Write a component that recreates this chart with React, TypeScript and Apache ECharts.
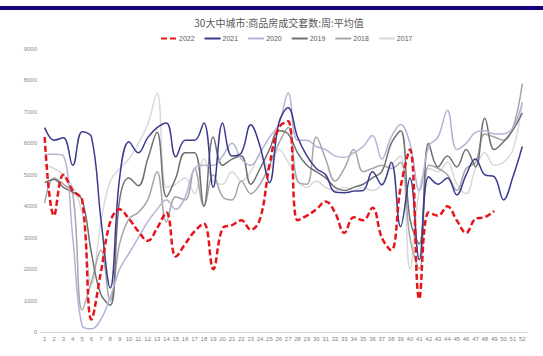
import React, { useEffect, useRef } from "react";
import * as echarts from "echarts";

const weeks: string[] = Array.from({ length: 52 }, (_, i) => String(i + 1));
const yTicks = [0, 1000, 2000, 3000, 4000, 5000, 6000, 7000, 8000, 9000];

const y2022 = [6200, 3700, 5000, 4500, 4200, 400, 1900, 3500, 3900, 3600, 3200, 2900, 3300, 3800, 2400, 2800, 3200, 3450, 2000, 3300, 3400, 3550, 3250, 3600, 5300, 6500, 6700, 3550, 3700, 3900, 4150, 3800, 3150, 3650, 3550, 3950, 3000, 2600, 4600, 5800, 1050, 3800, 3700, 4000, 3550, 3150, 3600, 3650, 3850];
const y2021 = [6500, 6100, 6180, 5300, 6370, 6200, 3600, 1400, 4900, 6050, 5700, 6180, 6500, 6650, 5570, 6100, 6100, 6650, 4600, 6650, 5600, 5700, 6590, 5900, 4750, 6650, 7130, 6200, 5600, 5200, 5000, 4450, 4430, 4480, 4500, 5100, 4680, 5400, 3350, 4900, 2300, 4940, 4700, 4900, 4360, 5000, 5500, 5000, 4940, 4200, 4940, 5900];
const y2020 = [5650, 5650, 5600, 3000, 200, 100, 400, 1100, 2000, 2500, 3000, 3500, 3900, 4200, 3900, 4300, 5200, 5300, 5300, 5600, 6000, 5500, 5300, 5700, 6200, 6600, 7600, 6100, 6100, 5900, 5800, 5600, 5550, 5700, 5900, 6250, 5500, 6200, 6600, 6000, 4500, 5900, 6200, 7050, 5800, 6000, 6350, 6400, 6300, 6300, 6500, 7300];
const y2019 = [4750, 4850, 4600, 4450, 4200, 2500, 1200, 850, 4200, 4900, 4650, 5500, 6350, 4300, 4900, 5700, 5700, 4000, 6200, 5300, 5500, 5600, 4700, 5200, 5800, 6400, 6300, 5700, 5300, 5100, 4900, 4600, 4500, 4600, 4700, 4900, 5100, 6000, 6400, 3600, 2800, 6000, 5250, 5600, 5250, 5800, 5250, 6800, 5800, 6050, 6430, 6970];
const y2018 = [4100, 4900, 4700, 4400, 700, 1600, 2600, 1000, 2800, 3600, 3800, 4200, 5100, 3500, 4300, 4200, 5200, 4000, 5000, 4300, 4200, 4800, 4400, 4700, 5300, 6000, 6500, 4800, 4700, 6200, 5500, 4800, 5200, 5800, 5100, 5200, 5300, 5200, 5400, 3000, 2000, 5300, 5200, 5000, 4500, 5200, 5400, 6300, 6200, 6100, 6500, 7900];
const y2017 = [5300, 5200, 5000, 4600, 3800, 1500, 3500, 4800, 5200, 5500, 6000, 6600, 7600, 4600, 4700, 4900, 4400, 5500, 4800, 4700, 5100, 4800, 5100, 5600, 5200, 5800, 5400, 4800, 4600, 4800, 4600, 4500, 4600, 4500, 4600, 4500, 4700, 5300, 5600, 2000, 4500, 5200, 5100, 5400, 4700, 4400, 5200, 5700, 5300, 5400, 5800, 7300];

const legendOrder = ["2022", "2021", "2020", "2019", "2018", "2017"];

export default function App() {
  const ref = useRef<HTMLDivElement>(null);
  useEffect(() => {
    document.body.style.margin = "0";
    const chart = echarts.init(ref.current!, undefined, { renderer: "svg" });
    const mk = (name: string, data: number[], color: string, width: number, dashed = false) => ({
      name,
      type: "line",
      data,
      smooth: 0.4,
      symbol: "none",
      showSymbol: false,
      lineStyle: { color, width, type: dashed ? [6, 3] : "solid" },
      itemStyle: { color },
    });
    chart.setOption({
      animation: false,
      backgroundColor: "#ffffff",
      textStyle: { fontFamily: "Liberation Sans, Noto Sans CJK SC, sans-serif" },
      graphic: [
        { type: "rect", shape: { x: 0, y: 6, width: 543, height: 4 }, style: { fill: "#13007a" }, silent: true },
      ],
      title: {
        text: "30大中城市:商品房成交套数:周:平均值",
        left: 274,
        top: 12,
        textAlign: "center",
        textStyle: { fontSize: 10, fontWeight: "normal", color: "#595959", fontFamily: "Noto Sans CJK SC" },
      },
      legend: {
        data: legendOrder,
        top: 30,
        left: 155,
        itemWidth: 16,
        itemHeight: 8,
        itemGap: 9,
        itemStyle: { opacity: 0 },
        textStyle: { fontSize: 7, color: "#595959", padding: [0, 0, 0, -3] },
      },
      grid: { left: 40, right: 16, top: 49, bottom: 24 },
      xAxis: {
        type: "category",
        data: weeks,
        boundaryGap: true,
        axisLine: { lineStyle: { color: "#d9d9d9", width: 1 } },
        axisTick: { show: false },
        axisLabel: { interval: 0, fontSize: 6, color: "#7f7f7f", margin: 4 },
      },
      yAxis: {
        type: "value",
        min: yTicks[0],
        max: yTicks[yTicks.length - 1],
        interval: 1000,
        axisLine: { show: false },
        axisTick: { show: false },
        splitLine: { show: false },
        axisLabel: { fontSize: 6, color: "#8c8c8c", margin: 3, formatter: (v: number) => String(v) },
      },
      series: [
        mk("2017", y2017, "#d9d9d9", 1.5),
        mk("2018", y2018, "#a6a6a6", 1.5),
        mk("2019", y2019, "#707070", 1.5),
        mk("2020", y2020, "#b3b3d6", 1.5),
        mk("2021", y2021, "#393a8e", 1.5),
        mk("2022", y2022, "#e8141c", 2.5, true),
      ],
    });
    return () => chart.dispose();
  }, []);
  return <div ref={ref} style={{ position: "fixed", left: 0, top: 0, width: 543, height: 356 }} />;
}
